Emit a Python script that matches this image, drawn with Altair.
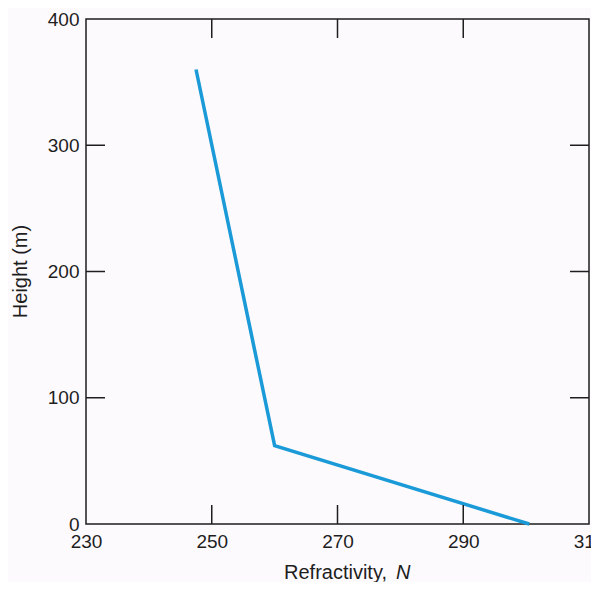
import altair as alt
import pandas as pd

# Data
refractivity = [247.5, 260.0, 300.5]
height_m = [360, 62, 0]

x_tick_labels = [230, 250, 270, 290, 310]
y_tick_labels = [0, 100, 200, 300, 400]
inner_x_ticks = [250, 270, 290]
inner_y_ticks = [100, 200, 300]

W, H = 503, 505
TICK = 19
FONT = "Liberation Sans"
INK = "#1e1e1e"
BLUE = "#1b9ad8"

xscale = alt.Scale(domain=[230, 310], nice=False, zero=False)
yscale = alt.Scale(domain=[0, 400], nice=False, zero=False)

xaxis = alt.Axis(values=x_tick_labels, ticks=False, tickSize=0, domain=False, grid=False,
                 labelFont=FONT, labelFontSize=19, labelColor=INK, labelPadding=8,
                 labelFlush=False, title=None, format="d")
yaxis = alt.Axis(values=y_tick_labels, ticks=False, tickSize=0, domain=False, grid=False,
                 labelFont=FONT, labelFontSize=19, labelColor=INK, labelPadding=7,
                 labelFlush=False, labelBaseline="middle", title=None, format="d")

line_df = pd.DataFrame({"N": refractivity, "h": height_m, "i": range(len(height_m))})
xt = pd.DataFrame({"v": inner_x_ticks})
yt = pd.DataFrame({"v": inner_y_ticks})

line = alt.Chart(line_df).mark_line(color=BLUE, strokeWidth=3.5, strokeCap="butt").encode(
    x=alt.X("N:Q", scale=xscale, axis=xaxis),
    y=alt.Y("h:Q", scale=yscale, axis=yaxis),
    order="i:O",
)

bottom_ticks = alt.Chart(xt).mark_rule(color=INK, strokeWidth=1.5).encode(
    x=alt.X("v:Q", scale=xscale, axis=xaxis), y=alt.value(H), y2=alt.value(H - TICK))
top_ticks = alt.Chart(xt).mark_rule(color=INK, strokeWidth=1.5).encode(
    x=alt.X("v:Q", scale=xscale, axis=xaxis), y=alt.value(0), y2=alt.value(TICK))
left_ticks = alt.Chart(yt).mark_rule(color=INK, strokeWidth=1.5).encode(
    y=alt.Y("v:Q", scale=yscale, axis=yaxis), x=alt.value(0), x2=alt.value(TICK))
right_ticks = alt.Chart(yt).mark_rule(color=INK, strokeWidth=1.5).encode(
    y=alt.Y("v:Q", scale=yscale, axis=yaxis), x=alt.value(W - TICK), x2=alt.value(W))

TITLE_Y = H + 55
xtitle_a = alt.Chart(pd.DataFrame({"t": ["Refractivity,"]})).mark_text(
    font=FONT, fontSize=20, color=INK, align="right", baseline="alphabetic").encode(
    text="t:N", x=alt.value(301), y=alt.value(TITLE_Y))
xtitle_b = alt.Chart(pd.DataFrame({"t": ["N"]})).mark_text(
    font=FONT, fontSize=20, color=INK, fontStyle="italic", align="left", baseline="alphabetic").encode(
    text="t:N", x=alt.value(310), y=alt.value(TITLE_Y))
ytitle = alt.Chart(pd.DataFrame({"t": ["Height (m)"]})).mark_text(
    font=FONT, fontSize=20, color=INK, align="center", baseline="alphabetic", angle=270).encode(
    text="t:N", x=alt.value(-59), y=alt.value(H / 2))

chart = alt.layer(
    line, bottom_ticks, top_ticks, left_ticks, right_ticks, xtitle_a, xtitle_b, ytitle
).properties(
    width=W, height=H,
    autosize=alt.AutoSizeParams(type="none"),
    padding={"left": 78, "top": 11, "right": 2, "bottom": 58},
    background="#fdfafd",
).configure_view(
    stroke=INK, strokeWidth=1.5, fill="#fdfafd"
)

chart.save("out.html", embed_options={"renderer": "svg", "actions": False})
